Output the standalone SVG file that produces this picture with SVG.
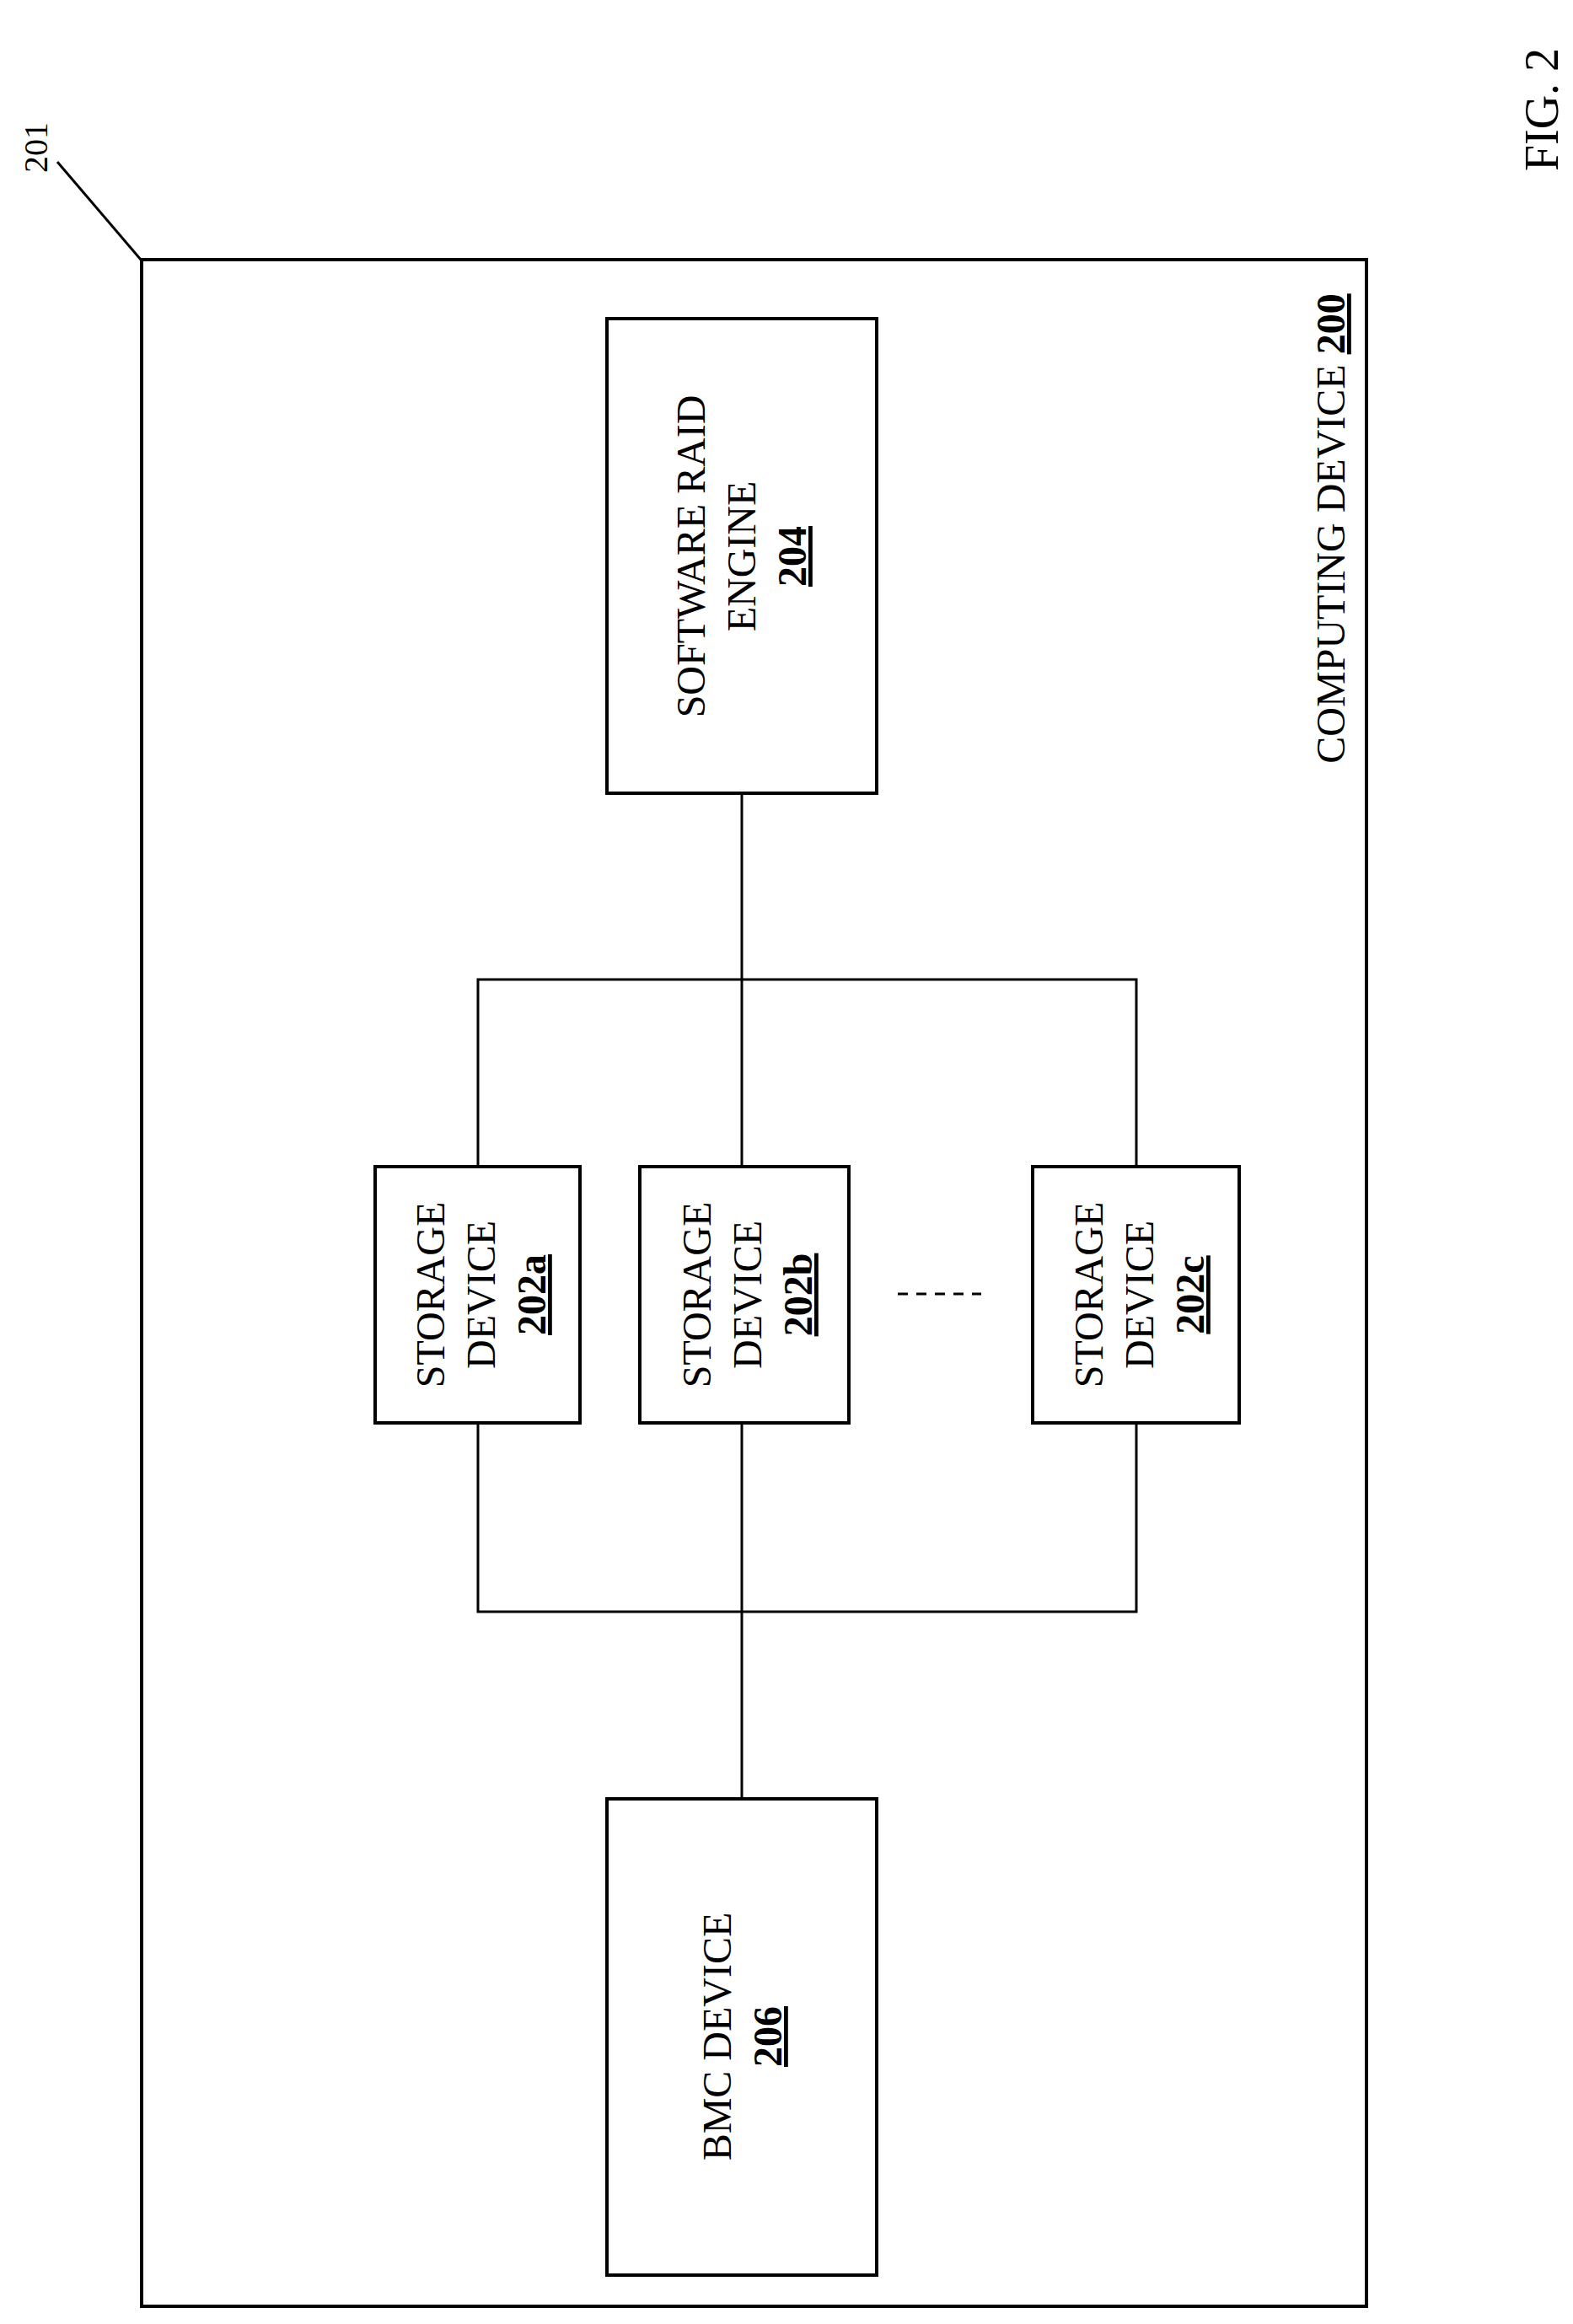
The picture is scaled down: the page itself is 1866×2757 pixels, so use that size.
<svg xmlns="http://www.w3.org/2000/svg" width="1866" height="2757" viewBox="0 0 1866 2757">
<style>
.b{fill:none;stroke:#000;stroke-width:4}
.l{fill:none;stroke:#000;stroke-width:3}
text{font-family:"Liberation Serif","Times New Roman",serif;font-size:48px;fill:#000;text-anchor:middle}
.n{font-weight:bold;text-decoration:underline}
</style>
<rect width="1866" height="2757" fill="#fff"/>
<g id="computing-device-200">
<rect class="b" x="168" y="308" width="1453" height="2428"/>
<text transform="translate(1595,627) rotate(-90)">COMPUTING DEVICE <tspan class="n">200</tspan></text>
</g>
<g id="label-201">
<line class="l" x1="68" y1="192" x2="167" y2="308"/>
<text transform="translate(56,175) rotate(-90)" style="font-size:40px">201</text>
</g>
<g id="fig">
<text transform="translate(1848,130) rotate(-90)" style="font-size:56px">FIG. 2</text>
</g>
<g id="software-raid-204">
<rect class="b" x="720" y="378" width="320" height="563"/>
<text transform="translate(836,660) rotate(-90)"><tspan x="0" dy="0">SOFTWARE RAID</tspan><tspan x="0" dy="60">ENGINE</tspan><tspan x="0" dy="60" class="n">204</tspan></text>
</g>
<g id="storage-202a">
<rect class="b" x="445" y="1384" width="243" height="304"/>
<text transform="translate(527,1536) rotate(-90)"><tspan x="0" dy="0">STORAGE</tspan><tspan x="0" dy="60">DEVICE</tspan><tspan x="0" dy="60" class="n">202a</tspan></text>
</g>
<g id="storage-202b">
<rect class="b" x="759" y="1384" width="248" height="304"/>
<text transform="translate(843,1536) rotate(-90)"><tspan x="0" dy="0">STORAGE</tspan><tspan x="0" dy="60">DEVICE</tspan><tspan x="0" dy="60" class="n">202b</tspan></text>
</g>
<g id="storage-202c">
<rect class="b" x="1225" y="1384" width="245" height="304"/>
<text transform="translate(1308,1536) rotate(-90)"><tspan x="0" dy="0">STORAGE</tspan><tspan x="0" dy="60">DEVICE</tspan><tspan x="0" dy="60" class="n">202c</tspan></text>
</g>
<g id="bmc-206">
<rect class="b" x="720" y="2134" width="320" height="565"/>
<text transform="translate(867,2416) rotate(-90)"><tspan x="0" dy="0">BMC DEVICE</tspan><tspan x="0" dy="60" class="n">206</tspan></text>
</g>
<g id="connectors">
<polyline class="l" points="880,941 880,1384"/>
<polyline class="l" points="567,1384 567,1162 1348,1162 1348,1384"/>
<polyline class="l" points="567,1688 567,1912 1348,1912 1348,1688"/>
<polyline class="l" points="880,1688 880,2134"/>
<line class="l" x1="1065" y1="1535" x2="1164" y2="1535" stroke-dasharray="12,10"/>
</g>
</svg>
